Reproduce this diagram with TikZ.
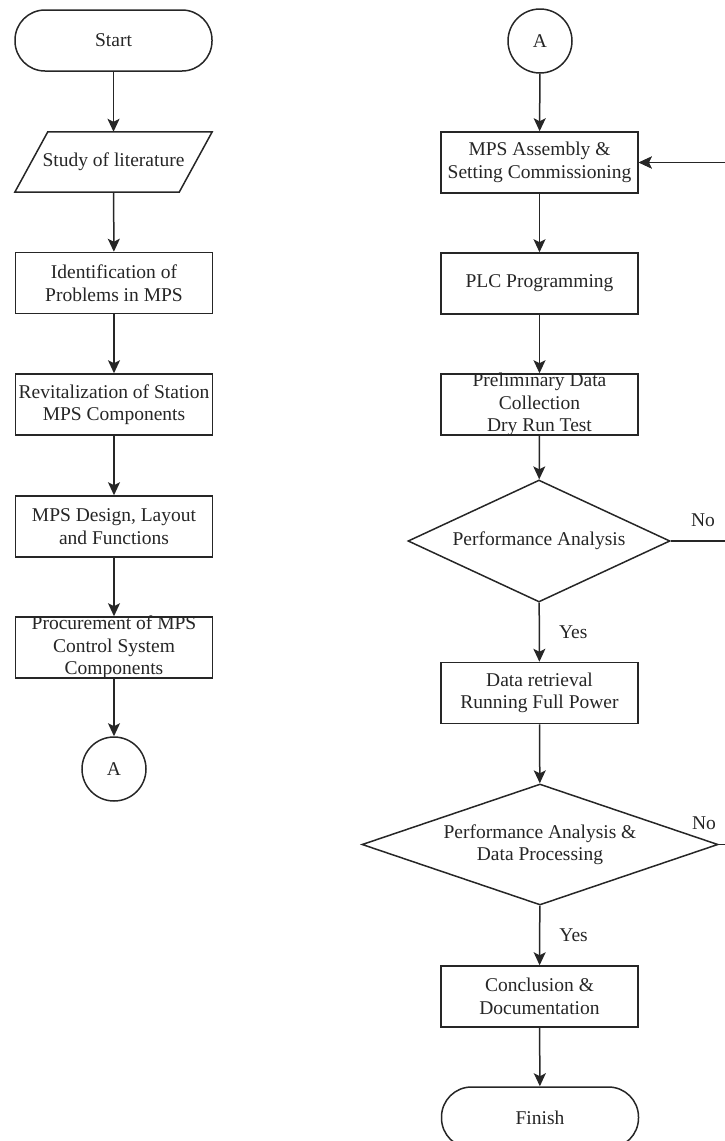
\documentclass[tikz,border=0pt]{standalone}
\usepackage{fontspec}
\setmainfont{Liberation Serif}
\usetikzlibrary{shapes.geometric,arrows.meta}
\begin{document}
\begin{tikzpicture}[x=1pt,y=-1pt,
  every node/.style={font=\fontsize{19.5}{22.5}\selectfont, text=black!85},
  outline/.style={draw=black!85, line width=1.5pt},
  base/.style={outline, align=center, inner sep=0pt},
  term/.style={base, rectangle, rounded corners=30pt, minimum width=197pt, minimum height=61pt},
  procbox/.style={base, rectangle, minimum width=197pt, minimum height=61pt},
  iotext/.style={align=center, inner sep=0pt, minimum width=164pt, minimum height=60pt},
  conn/.style={base, circle, minimum size=64pt},
  dec/.style={base, diamond},
  arr/.style={draw=black!85, line width=1.5pt, -{Stealth[length=13pt,width=12pt,inset=3pt]}},
  lbl/.style={inner sep=0pt}
]
\useasboundingbox (0,0) rectangle (725,1141);
\clip (0,0) rectangle (725,1141);

% left column
\node[term] (start) at (113.5,40.5) {Start};
\node[iotext] (lit) at (113.5,162) {Study of literature};
\draw[outline, line join=miter] ([xshift=-16.5pt]lit.south west) -- ([xshift=16.5pt]lit.north west)
  -- ([xshift=16.5pt]lit.north east) -- ([xshift=-16.5pt]lit.south east) -- cycle;
\node[procbox] (ident) at (114,283) {Identification of\\Problems in MPS};
\node[procbox] (revit) at (114,404.5) {Revitalization of Station\\MPS Components};
\node[procbox] (design) at (114,526.5) {MPS Design, Layout\\and Functions};
\node[procbox, inner ysep=-1.5pt] (procure) at (114,647.5) {Procurement of MPS\\Control System\\Components};
\node[conn] (a1) at (114,769) {A};

% right column
\node[conn] (a2) at (540,41) {A};
\node[procbox] (asm) at (539.5,162.5) {MPS Assembly \&\\Setting Commissioning};
\node[procbox] (plc) at (539.5,283.5) {PLC Programming};
\node[procbox, inner ysep=-1.5pt] (prelim) at (539.5,404.5) {Preliminary Data\\Collection\\Dry Run Test};
\node[dec, aspect=2.15, minimum width=262pt, minimum height=122pt] (d1) at (539,541) {Performance Analysis};
\node[procbox] (data) at (539.5,693) {Data retrieval\\Running Full Power};
\node[dec, aspect=2.94, minimum width=356pt, minimum height=121pt] (d2) at (540,844.5) {Performance Analysis \&\\Data Processing};
\node[procbox] (concl) at (539.5,996.5) {Conclusion \&\\Documentation};
\node[term] (finish) at (540,1117.5) {Finish};

\coordinate (rail) at (745,0);

% connectors
\draw[arr] (start) -- (lit);
\draw[arr] (lit) -- (ident);
\draw[arr] (ident) -- (revit);
\draw[arr] (revit) -- (design);
\draw[arr] (design) -- (procure);
\draw[arr] (procure) -- (a1);

\draw[arr] (a2) -- (asm);
\draw[arr] (asm) -- (plc);
\draw[arr] (plc) -- (prelim);
\draw[arr] (prelim) -- (d1);
\draw[arr] (d1) -- (data) node[lbl, pos=0.5, right=19pt] {Yes};
\draw[arr] (data) -- (d2);
\draw[arr] (d2) -- (concl) node[lbl, pos=0.5, right=19pt] {Yes};
\draw[arr] (concl) -- (finish);

\draw[arr] (d1.east) -- (d1.east -| rail) |- (asm.east);
\draw[arr] (d2.east) -- (d2.east -| rail) |- (asm.east);

\node[lbl] (no1) at (703,520) {No};
\node[lbl] (no2) at (704,823) {No};
\end{tikzpicture}
\end{document}
